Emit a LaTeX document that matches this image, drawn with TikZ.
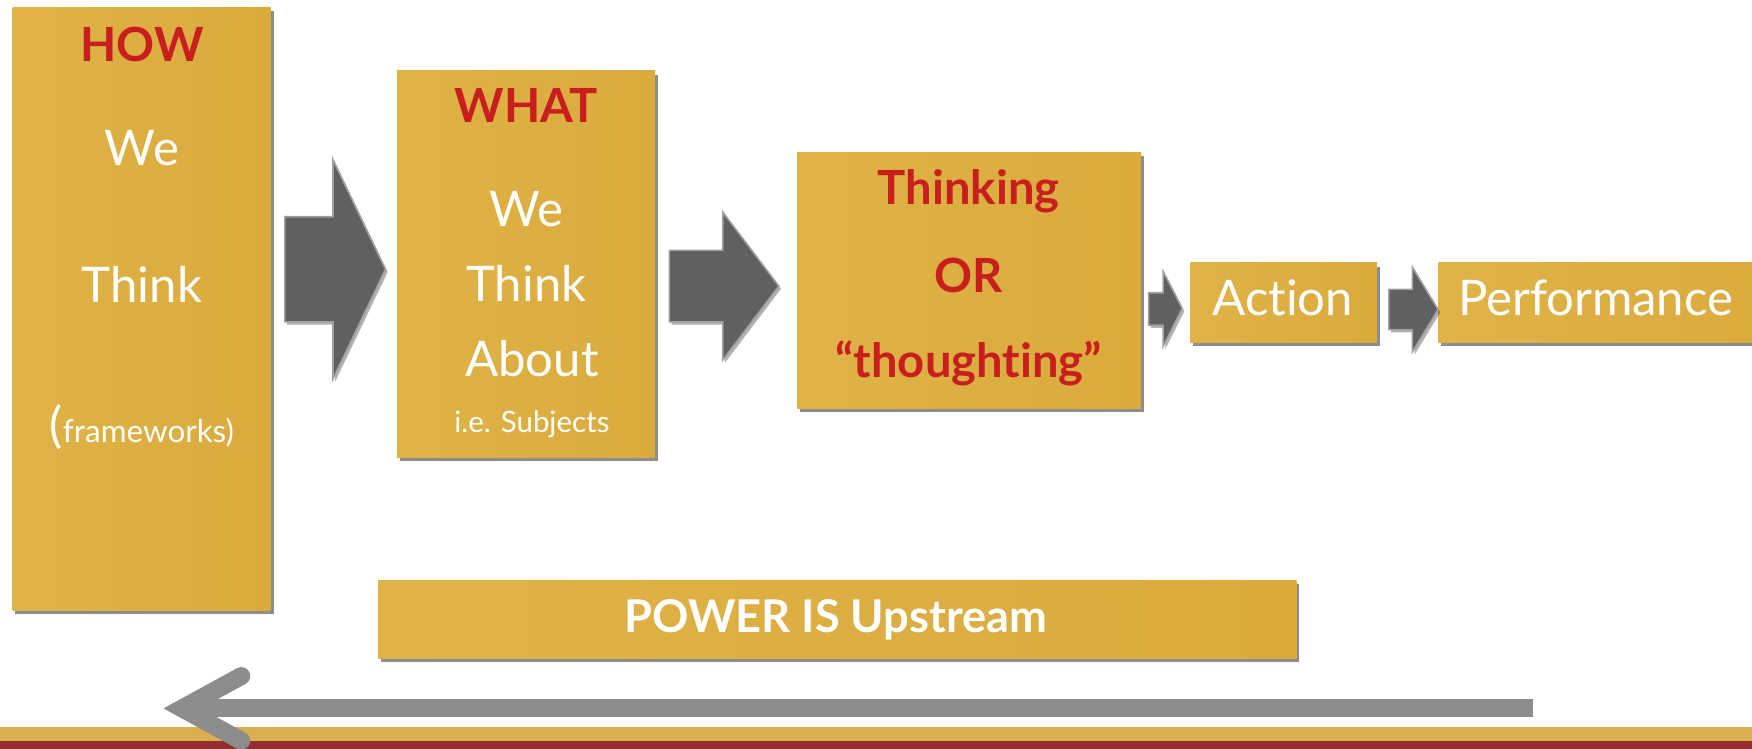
\documentclass[tikz,border=0pt]{standalone}
\usepackage{fontspec}
\setmainfont{Lato}[Ligatures=NoCommon]
\usetikzlibrary{shadows}

\definecolor{boxgoldA}{RGB}{223,179,72}
\definecolor{boxgoldB}{RGB}{218,170,60}
\definecolor{wordred}{RGB}{200,30,30}
\definecolor{chevgray}{RGB}{96,96,96}
\definecolor{backgray}{RGB}{140,140,140}
\definecolor{bargold}{RGB}{216,176,80}
\definecolor{barred}{RGB}{147,46,46}

\begin{document}
\begin{tikzpicture}[x=0.02cm,y=-0.02cm,
	goldbox/.style={rectangle,anchor=north west,inner sep=0pt,left color=boxgoldA,right color=boxgoldB,
		drop shadow={shadow xshift=0.05cm,shadow yshift=-0.07cm,fill=black,opacity=0.45}},
	redword/.style={anchor=base,inner sep=0pt,text=wordred,font=\bfseries\fontsize{24}{29}\selectfont},
	whiteword/.style={anchor=base,inner sep=0pt,text=white,font=\fontsize{25}{30}\selectfont},
	smallword/.style={anchor=base,inner sep=0pt,text=white,font=\fontsize{15}{18}\selectfont},
	blockarrow/.style={fill=chevgray,draw=gray!75,line width=0.8pt,line join=miter,
		drop shadow={shadow xshift=0.04cm,shadow yshift=-0.05cm,fill=black,opacity=0.3}},
	backline/.style={draw=backgray,line width=0.32cm}
	]
	\useasboundingbox (0,0) rectangle (1568,670);
	\clip (0,0) rectangle (1568,670);

	% the boxes
	\node[goldbox,minimum width=4.62cm,minimum height=10.8cm] (howbox) at (11,6) {};
	\node[goldbox,minimum width=4.62cm,minimum height=6.92cm] (whatbox) at (355,63) {};
	\node[goldbox,minimum width=6.16cm,minimum height=4.58cm] (thinkbox) at (713,136) {};
	\node[goldbox,minimum width=3.34cm,minimum height=1.42cm] (actbox) at (1065,235) {};
	\node[goldbox,minimum width=6.2cm,minimum height=1.42cm] (perfbox) at (1287,235) {};
	\node[goldbox,minimum width=16.44cm,minimum height=1.4cm] (powerbox) at (338,519) {};

	% HOW
	\node[redword] (how) at (127,55) {HOW};
	\node[whiteword] (howwe) at (127,148) {We};
	\node[whiteword] (howthink) at (127,271) {Think};
	\node[anchor=base,inner sep=0pt,text=white] (howframe) at (127,396)
		{{\fontsize{25}{30}\selectfont(}{\fontsize{16}{19}\selectfont frameworks)}};

	% WHAT
	\node[redword] (what) at (471,110) {WHAT};
	\node[whiteword] (whatwe) at (471,203) {We};
	\node[whiteword] (whatthink) at (471,270) {Think};
	\node[whiteword] (whatabout) at (476,337) {About};
	\node[smallword] (whatsubj) at (476,387) {i.e. Subjects};

	% thinking
	\node[redword] (thinking) at (867,183) {Thinking};
	\node[redword] (thinkor) at (867,262) {OR};
	\node[redword] (thought) at (867,338) {“thoughting”};

	\node[whiteword] (action) at (1148,282) {Action};
	\node[whiteword] (perform) at (1428,282) {Performance};
	\node[anchor=base,inner sep=0pt,text=white,font=\bfseries\fontsize{23}{28}\selectfont] (power) at (748,566) {POWER IS Upstream};

	% block arrows between the boxes
	\path[blockarrow] (255,194) -- (298,194) -- (298,143) -- (345,241) -- (298,339) -- (298,288) -- (255,288) -- cycle;
	\path[blockarrow] (599,224) -- (647,224) -- (647,190) -- (697,256) -- (647,322) -- (647,288) -- (599,288) -- cycle;
	\path[blockarrow] (1028,262) -- (1041,262) -- (1041,243) -- (1058,276) -- (1041,310) -- (1041,291) -- (1028,291) -- cycle;
	\path[blockarrow] (1243,259) -- (1264,259) -- (1264,239) -- (1287,277) -- (1264,315) -- (1264,295) -- (1243,295) -- cycle;

	% bottom bars
	\fill[bargold] (0,651) rectangle (1568,663);
	\fill[barred] (0,663) rectangle (1568,670);

	% the way back
	\coordinate (backstart) at (1372,634);
	\coordinate (backtip) at (163,634);
	\draw[backline] (backstart) -- (backtip);
	\draw[backline,line cap=round,line join=miter] (216,605) -- (backtip) -- (216,663);
\end{tikzpicture}
\end{document}
